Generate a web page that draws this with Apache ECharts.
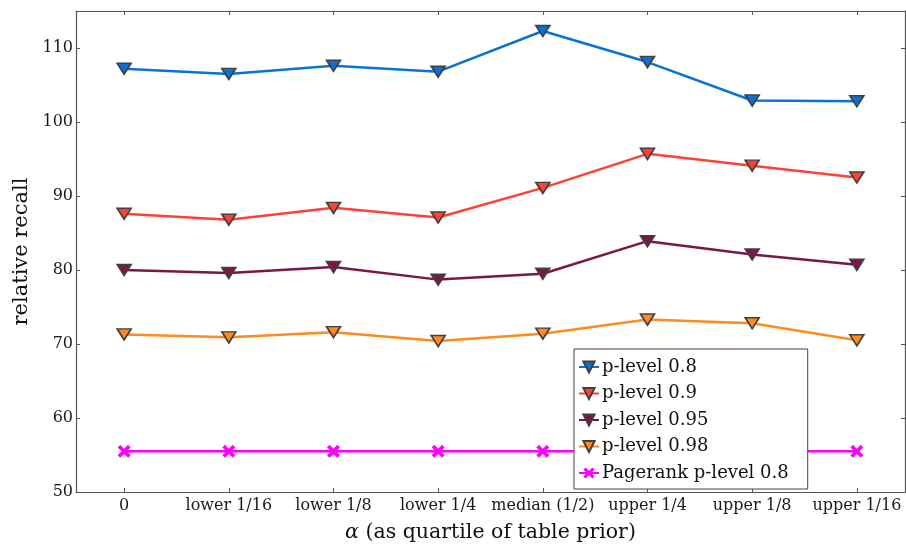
<!DOCTYPE html>
<html>
<head>
<meta charset="utf-8">
<script src="https://cdn.jsdelivr.net/npm/echarts@6/dist/echarts.min.js"></script>
<style>html,body{margin:0;padding:0;background:#fff}#c{width:906px;height:548px}</style>
</head>
<body>
<div id="c"></div>
<script>
const categories = ['0', 'lower 1/16', 'lower 1/8', 'lower 1/4', 'median (1/2)', 'upper 1/4', 'upper 1/8', 'upper 1/16'];
const yTicks = [50, 60, 70, 80, 90, 100, 110];
const p08 = [107.2, 106.5, 107.6, 106.8, 112.3, 108.1, 102.9, 102.8];
const p09 = [87.6, 86.8, 88.4, 87.1, 91.1, 95.7, 94.1, 92.5];
const p095 = [80.0, 79.6, 80.4, 78.7, 79.5, 83.9, 82.1, 80.7];
const p098 = [71.3, 70.9, 71.6, 70.4, 71.4, 73.3, 72.8, 70.5];
const pagerank = [55.5, 55.5, 55.5, 55.5, 55.5, 55.5, 55.5, 55.5];
const seriesNames = ['p-level 0.8', 'p-level 0.9', 'p-level 0.95', 'p-level 0.98', 'Pagerank p-level 0.8'];

const xPos = categories.map((c, i) => i + 1);
const font = 'DejaVu Serif';
const axisColor = '#555';
const XPATH = 'path://M0,2 L2,0 L5,3 L8,0 L10,2 L7,5 L10,8 L8,10 L5,7 L2,10 L0,8 L3,5 Z';

function pairs(arr) { return arr.map((v, i) => [xPos[i], v]); }

function triSeries(name, data, color) {
  return {
    name, type: 'line', data: pairs(data),
    symbol: 'triangle', symbolRotate: 180, symbolSize: [14, 11],
    lineStyle: { color, width: 2.5 },
    itemStyle: { color, borderColor: '#404040', borderWidth: 1.6 },
    emphasis: { disabled: true },
    z: 3
  };
}

const chart = echarts.init(document.getElementById('c'), null, { renderer: 'canvas' });
chart.setOption({
  animation: false,
  backgroundColor: '#fff',
  textStyle: { fontFamily: font },
  grid: { left: 76, right: 1, top: 11, bottom: 51, containLabel: false },
  xAxis: [{
    type: 'value', min: 0.54, max: 8.46,
    position: 'bottom',
    name: '{i|α} (as quartile of table prior)',
    nameLocation: 'middle', nameGap: 30,
    nameTextStyle: { fontFamily: font, fontSize: 20.5, color: '#111',
      rich: { i: { fontFamily: font, fontStyle: 'italic', fontSize: 20.5, color: '#111' } } },
    splitLine: { show: false },
    axisLine: { show: true, lineStyle: { color: axisColor, width: 1.2 } },
    axisTick: { show: true, inside: true, length: 4, customValues: xPos, lineStyle: { color: axisColor } },
    axisLabel: { customValues: xPos, margin: 6, fontFamily: font, fontSize: 16, color: '#1a1a1a',
      formatter: v => categories[Math.round(v) - 1] }
  }, {
    type: 'value', min: 0.54, max: 8.46, position: 'top',
    splitLine: { show: false },
    axisLine: { show: true, lineStyle: { color: axisColor, width: 1.2 } },
    axisTick: { show: true, inside: true, length: 4, customValues: xPos, lineStyle: { color: axisColor } },
    axisLabel: { show: false }
  }],
  yAxis: [{
    type: 'value', min: 50, max: 115, position: 'left',
    name: 'relative recall', nameLocation: 'middle', nameGap: 42,
    nameTextStyle: { fontFamily: font, fontSize: 21, color: '#111' },
    splitLine: { show: false },
    axisLine: { show: true, lineStyle: { color: axisColor, width: 1.2 } },
    axisTick: { show: true, inside: true, length: 4, customValues: yTicks, lineStyle: { color: axisColor } },
    axisLabel: { customValues: yTicks, margin: 3, fontFamily: font, fontSize: 16, color: '#1a1a1a' }
  }, {
    type: 'value', min: 50, max: 115, position: 'right',
    splitLine: { show: false },
    axisLine: { show: true, lineStyle: { color: axisColor, width: 1.2 } },
    axisTick: { show: true, inside: true, length: 4, customValues: yTicks, lineStyle: { color: axisColor } },
    axisLabel: { show: false }
  }],
  legend: {
    orient: 'vertical', left: 574, top: 349,
    backgroundColor: '#fff', borderColor: '#444', borderWidth: 1,
    padding: [9, 19, 7, 4], itemGap: 8.5,
    itemWidth: 20, itemHeight: 14,
    textStyle: { fontFamily: font, fontSize: 18, lineHeight: 18, color: '#111', padding: [0, 0, 0, -2] },
    data: seriesNames
  },
  series: [
    triSeries(seriesNames[0], p08, '#0a72d4'),
    triSeries(seriesNames[1], p09, '#ff4135'),
    triSeries(seriesNames[2], p095, '#7c1548'),
    triSeries(seriesNames[3], p098, '#ff8a1e'),
    {
      name: seriesNames[4], type: 'line', data: pairs(pagerank),
      symbol: XPATH, symbolSize: 13,
      lineStyle: { color: '#ff00ff', width: 2.5 },
      itemStyle: { color: '#ff00ff' },
      emphasis: { disabled: true }, z: 3
    }
  ]
});
</script>
</body>
</html>
